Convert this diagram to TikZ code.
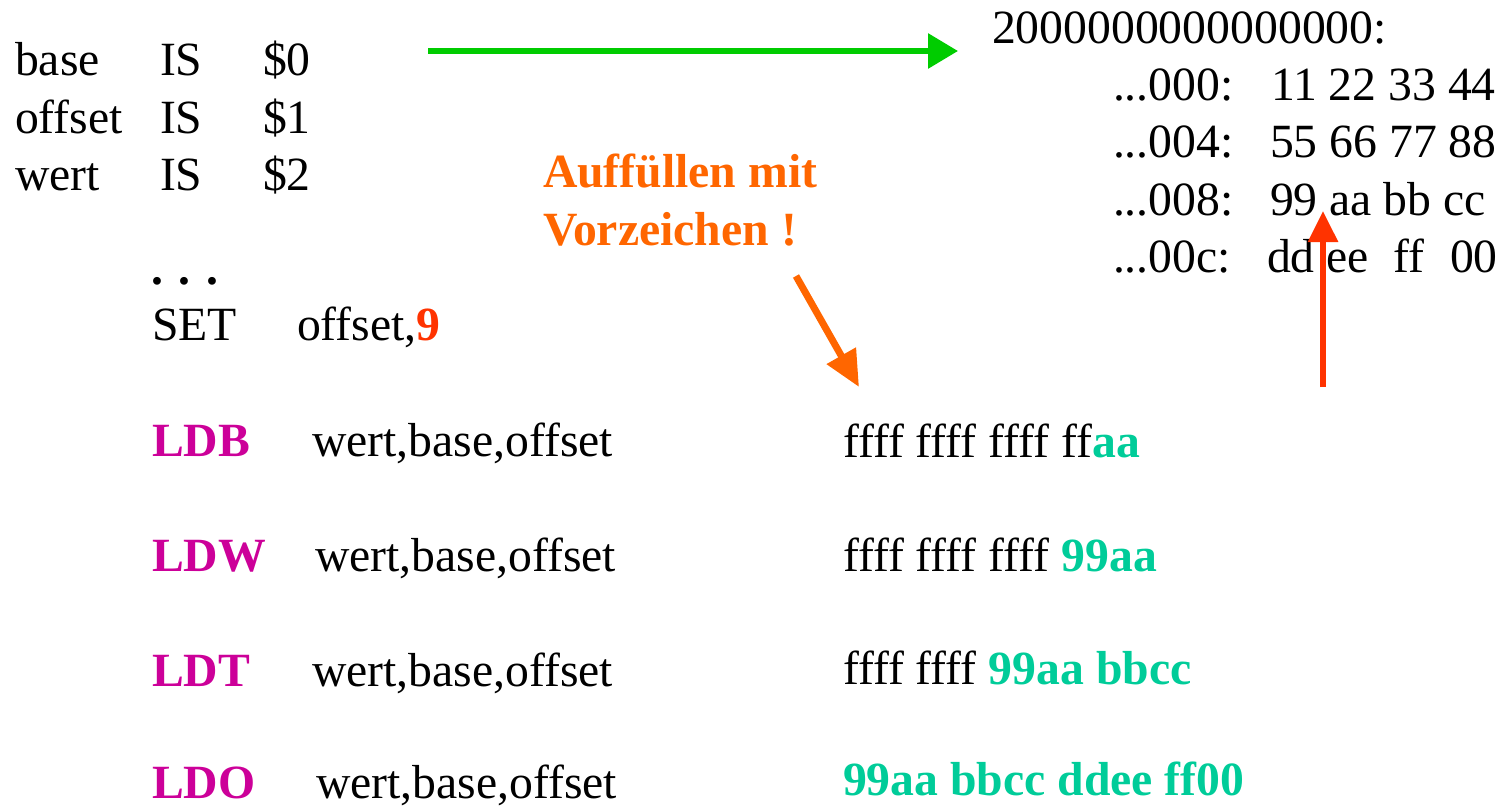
\documentclass[tikz,border=0pt]{standalone}
\usepackage{fontspec}
\setmainfont{Liberation Serif}
\usetikzlibrary{arrows.meta}
\definecolor{arrowgreen}{HTML}{00CC00}
\definecolor{noteorange}{HTML}{FF6600}
\definecolor{hilred}{HTML}{FF3300}
\definecolor{opmagenta}{HTML}{CC0099}
\definecolor{bytegreen}{HTML}{00CC99}
\newcommand{\bigtext}{\fontsize{47.7}{56}\selectfont}
\begin{document}
\begin{tikzpicture}[x=1pt,y=-1pt,
  txt/.style={anchor=base west,inner sep=0pt,outer sep=0pt,font=\bigtext},
  opc/.style={txt,text=opmagenta,font=\bigtext\bfseries},
  note/.style={txt,text=noteorange,font=\bigtext\bfseries},
  conn/.style={line width=6pt}]
\useasboundingbox (0,0) rectangle (1505,806);

% register definitions
\node[txt] (n1) at (15,75)  {base};
\node[txt] (i1) at (160,75) {IS};
\node[txt] (r1) at (263,75) {\$0};
\node[txt] (n2) at (15,133) {offset};
\node[txt] (i2) at (160,133) {IS};
\node[txt] (r2) at (263,133) {\$1};
\node[txt] (n3) at (15,190) {wert};
\node[txt] (i3) at (160,190) {IS};
\node[txt] (r3) at (263,190) {\$2};

% program
\node[txt,font=\bigtext\bfseries] (dots) at (151,284) {. . .};
\node[txt] (set) at (152,340) {SET};
\node[txt] (setarg) at (297,340) {offset,\textcolor{hilred}{\textbf{9}}};

\node[opc] (ldb) at (152,456) {LDB};
\node[txt] (ldbarg) at (312,456) {wert,base,offset};
\node[opc] (ldw) at (152,571) {LDW};
\node[txt] (ldwarg) at (315,571) {wert,base,offset};
\node[opc] (ldt) at (152,686) {LDT};
\node[txt] (ldtarg) at (312,686) {wert,base,offset};
\node[opc] (ldo) at (152,798) {LDO};
\node[txt] (ldoarg) at (316,798) {wert,base,offset};

% results
\node[txt] (res1) at (843,457) {ffff ffff ffff ff\textcolor{bytegreen}{\textbf{aa}}};
\node[txt] (res2) at (843,571) {ffff ffff ffff \textcolor{bytegreen}{\textbf{99aa}}};
\node[txt] (res3) at (843,684) {ffff ffff \textcolor{bytegreen}{\textbf{99aa bbcc}}};
\node[txt,text=bytegreen,font=\bigtext\bfseries] (res4) at (843,795) {99aa bbcc ddee ff00};

% memory dump
\node[txt] (hdr) at (992,43) {2000000000000000:};
\node[txt] (a0) at (1113,100) {...000:};
\node[txt] (b0) at (1271,100) {11 22 33 44};
\node[txt] (a4) at (1113,157) {...004:};
\node[txt] (b4) at (1270,157) {55 66 77 88};
\node[txt] (a8) at (1113,215) {...008:};
\node[txt] (b8) at (1270,215) {99 aa bb cc};
\node[txt] (ac) at (1113,272) {...00c:};
\node[txt] (bc1) at (1267,272) {dd ee};
\node[txt] (bc2) at (1393,272) {ff};
\node[txt] (bc3) at (1450,272) {00};

% annotation
\node[note] (note1) at (543,187) {Auffüllen mit};
\node[note] (note2) at (543,245) {Vorzeichen !};

% arrows
\coordinate (gA) at (428,51);
\coordinate (gB) at (958,51);
\draw[conn,arrowgreen,-{Triangle[length=30pt,width=34pt]}] (gA) -- (gB);

\coordinate (oA) at (796,276);
\coordinate (oB) at (859,387);
\draw[conn,line width=7pt,noteorange,-{Triangle[length=36pt,width=32pt]}] (oA) -- (oB);

\coordinate (rA) at (1323,387);
\coordinate (rB) at (1323,211);
\draw[conn,hilred,-{Triangle[length=31pt,width=29pt]}] (rA) -- (rB);
\end{tikzpicture}
\end{document}
